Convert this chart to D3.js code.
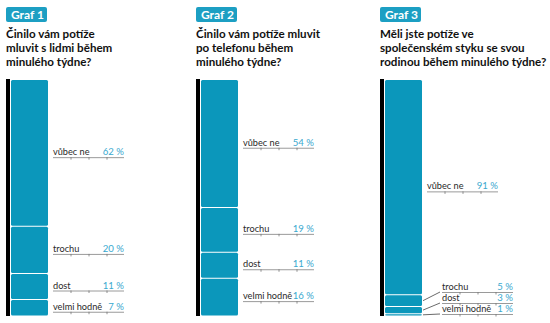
<!DOCTYPE html>
<html>
<head>
<meta charset="utf-8">
<script src="https://cdn.jsdelivr.net/npm/d3@7/dist/d3.min.js"></script>
<style>
  html, body { margin: 0; padding: 0; background: #fff; }
  svg { display: block; }
</style>
</head>
<body>
<svg id="chart" width="550" height="323"></svg>
<script>
// Panel titles and questions
const badges = ["Graf 1", "Graf 2", "Graf 3"];
const questions = [
  ["Činilo vám potíže", "mluvit s lidmi během", "minulého týdne?"],
  ["Činilo vám potíže mluvit", "po telefonu během", "minulého týdne?"],
  ["Měli jste potíže ve", "společenském styku se svou", "rodinou během minulého týdne?"]
];
// Answer categories (top to bottom in each stacked bar)
const categories = ["vůbec ne", "trochu", "dost", "velmi hodně"];
// Shares of respondents, in percent
const values1 = [62, 20, 11, 7];
const values2 = [54, 19, 11, 16];
const values3 = [91, 5, 3, 1];
const seriesValues = [values1, values2, values3];

const svg = d3.select("#chart");
const BAR = "#0b97bb";
const BADGE = "#1c9fc3";
const PCT = "#3aa9cf";
const TEXT = "#2a2a2a";
const FONT = "Lato, 'Open Sans', sans-serif";

const panelX = d3.scaleOrdinal().domain(badges).range([6, 196, 380]);
const y = d3.scaleLinear().domain([0, 100]).range([80, 316]);

const barOffset = 5, barWidth = 37, labelWidth = 71;

badges.forEach((name, i) => {
  const x0 = panelX(name);
  const g = svg.append("g").attr("transform", `translate(${x0},0)`);

  // badge
  g.append("rect").attr("x", 0).attr("y", 7).attr("width", 41).attr("height", 15)
    .attr("rx", 2).attr("fill", BADGE);
  g.append("text").attr("x", 5).attr("y", 19)
    .attr("font-family", FONT).attr("font-weight", 700).attr("font-size", 12)
    .attr("fill", "#fff").text(name);

  // question
  g.append("g").selectAll("text").data(questions[i]).join("text")
    .attr("x", 0).attr("y", (d, k) => 38 + k * 14.2)
    .attr("font-family", FONT).attr("font-weight", 700).attr("font-size", 11.6)
    .attr("fill", "#111").text(d => d);

  // black axis line
  g.append("rect").attr("x", 0).attr("y", y(0) - 1).attr("width", 4)
    .attr("height", y(100) - y(0) + 1).attr("fill", "#000");

  // stacked segments
  const vals = seriesValues[i];
  const stack = [];
  let acc = 0;
  vals.forEach((v, k) => { stack.push({cat: categories[k], v, a: acc, b: acc + v}); acc += v; });

  const bx = barOffset;
  g.append("g").selectAll("rect").data(stack).join("rect")
    .attr("x", bx).attr("y", d => y(d.a) + (d.a > 0 ? 0.5 : 0))
    .attr("width", barWidth)
    .attr("height", d => Math.max(0.8, y(d.b) - y(d.a) - (d.a > 0 ? 1 : 0.5)))
    .attr("rx", 1.5).attr("fill", BAR);

  // labels: inline when the segment is tall enough, otherwise stacked callouts
  const bottom = y(100) - 2;
  const small = stack.filter(d => y(d.b) - y(d.a) < 14);
  stack.forEach(d => {
    const mid = (y(d.a) + y(d.b)) / 2;
    let lx, ly, callout = false;
    const si = small.indexOf(d);
    if (si >= 0) {
      callout = true;
      lx = bx + barWidth + 20;
      ly = bottom - (small.length - 1 - si) * 11;
    } else {
      lx = bx + barWidth + 5;
      ly = mid + 4;
    }
    const lg = g.append("g");
    if (callout) {
      lg.append("line").attr("x1", bx + barWidth + 1).attr("y1", mid)
        .attr("x2", lx - 2).attr("y2", ly).attr("stroke", "#444").attr("stroke-width", 0.8);
    }
    lg.append("line").attr("x1", lx).attr("x2", lx + labelWidth)
      .attr("y1", ly + 0.5).attr("y2", ly + 0.5).attr("stroke", "#9a9a9a").attr("stroke-width", 1);
    lg.selectAll("line.tick").data(d3.range(lx + 18, lx + labelWidth, 18)).join("line")
      .attr("class", "tick").attr("x1", t => t).attr("x2", t => t)
      .attr("y1", ly).attr("y2", ly + 2.5).attr("stroke", "#777").attr("stroke-width", 0.8);
    lg.append("text").attr("x", lx).attr("y", ly - 2)
      .attr("font-family", FONT).attr("font-size", 9.2).attr("fill", TEXT).text(d.cat);
    lg.append("text").attr("x", lx + labelWidth).attr("y", ly - 2).attr("text-anchor", "end")
      .attr("font-family", FONT).attr("font-size", 9.6).attr("fill", PCT).text(`${d.v} %`);
  });
});
</script>
</body>
</html>
